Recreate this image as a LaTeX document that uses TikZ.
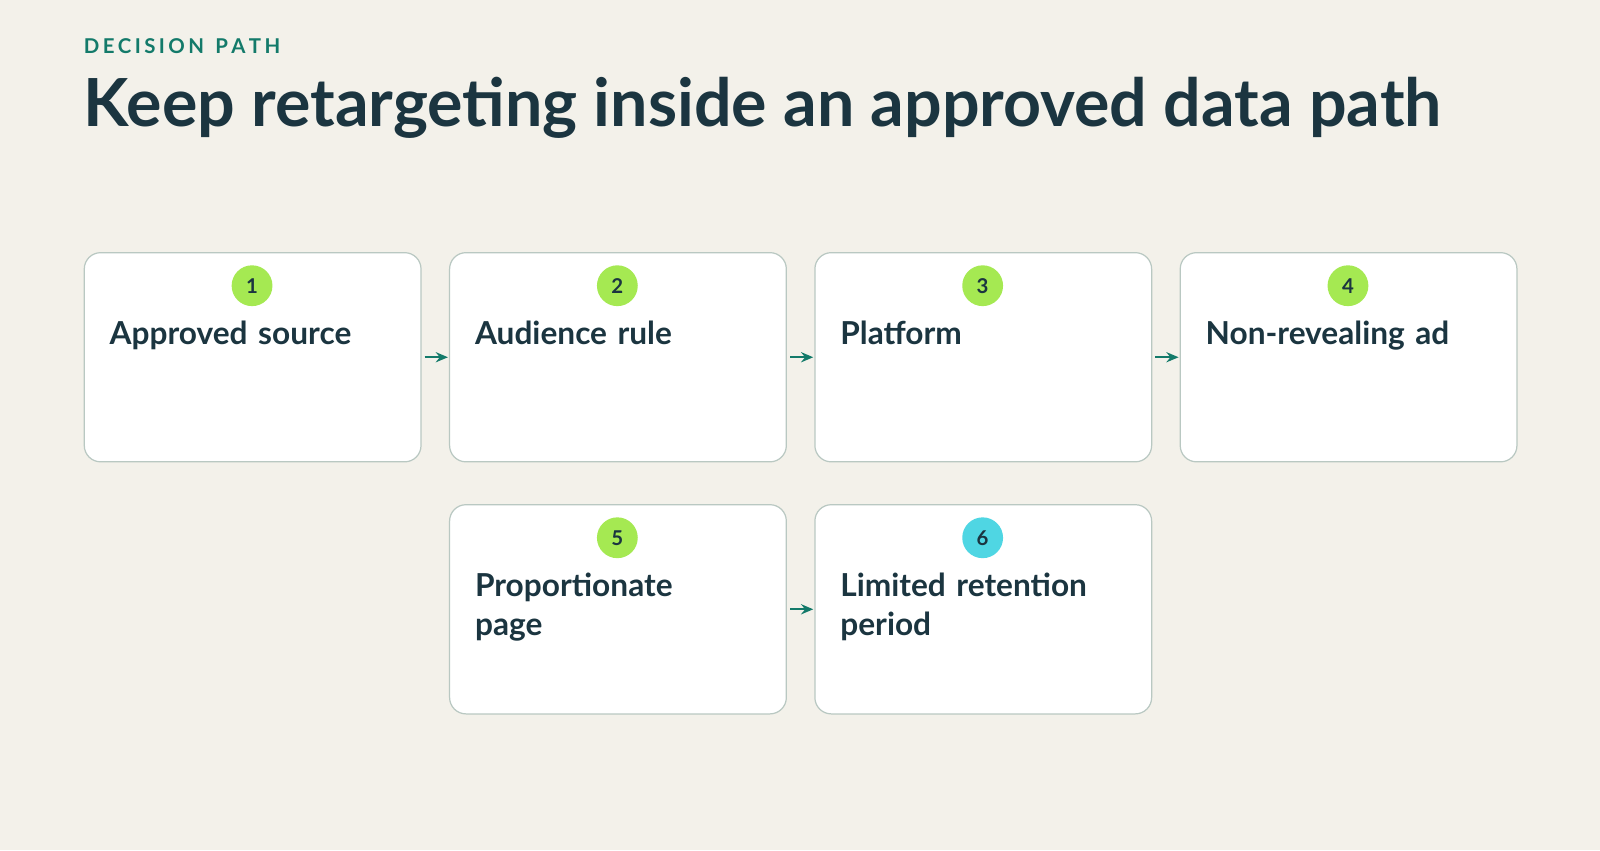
\documentclass[tikz,border=0pt]{standalone}
\usepackage{fontspec}
\setmainfont{Lato}
\usetikzlibrary{positioning,arrows.meta}
\definecolor{bgc}{HTML}{F3F1EA}
\definecolor{ink}{HTML}{1B3540}
\definecolor{teal}{HTML}{137A6A}
\definecolor{edge}{HTML}{B9C8C2}
\definecolor{lime}{HTML}{A5E952}
\definecolor{cyan}{HTML}{4FD6E3}
\tikzset{
	stepbox/.style={draw=edge,line width=1.2pt,fill=white,rounded corners=16pt,minimum width=330pt,minimum height=205pt,inner sep=0pt},
	badge/.style={circle,fill=lime,minimum size=40pt,inner sep=0pt,font=\fontsize{20}{20}\selectfont\bfseries,text=ink},
	lbl/.style={anchor=north west,align=left,text width=300pt,font=\fontsize{31}{38}\selectfont\bfseries,text=ink},
	link/.style={-{Stealth[length=12pt,width=10pt,inset=4pt]},teal,line width=2.2pt,shorten <=3pt,shorten >=1pt}
}
\begin{document}
\begin{tikzpicture}[x=1pt,y=-1pt]
	\fill[bgc] (0,0) rectangle (1568,833);
	\useasboundingbox (0,0) rectangle (1568,833);
	\node[anchor=west,text=teal,font=\fontsize{20}{20}\selectfont\bfseries,inner sep=0pt] (kicker) at (82,45) {D\,E\,C\,I\,S\,I\,O\,N\;\;P\,A\,T\,H};
	\node[anchor=base west,text=ink,font=\fontsize{65}{65}\selectfont\bfseries,inner sep=0pt] (title) at (82,124) {Keep retargeting inside an approved data path};
	% top row
	\foreach \i/\x/\t in {1/82/Approved source,2/440/Audience rule,3/798/Platform,4/1156/Non-revealing ad}{
		\node[stepbox,anchor=north west] (s\i) at (\x,247) {};
		\node[badge] (b\i) at (\x+165,280) {\i};
		\node[lbl] (t\i) at (\x+22,311) {\t};
	}
	% bottom row
	\node[stepbox,anchor=north west] (s5) at (440,494) {};
	\node[badge] (b5) at (605,527) {5};
	\node[lbl] (t5) at (462,558) {Proportionate\\page};
	\node[stepbox,anchor=north west] (s6) at (798,494) {};
	\node[badge,fill=cyan] (b6) at (963,527) {6};
	\node[lbl] (t6) at (820,558) {Limited retention\\period};
	\foreach \a/\b in {1/2,2/3,3/4,5/6}
		\draw[link] (s\a.east) -- (s\b.west);
\end{tikzpicture}
\end{document}
